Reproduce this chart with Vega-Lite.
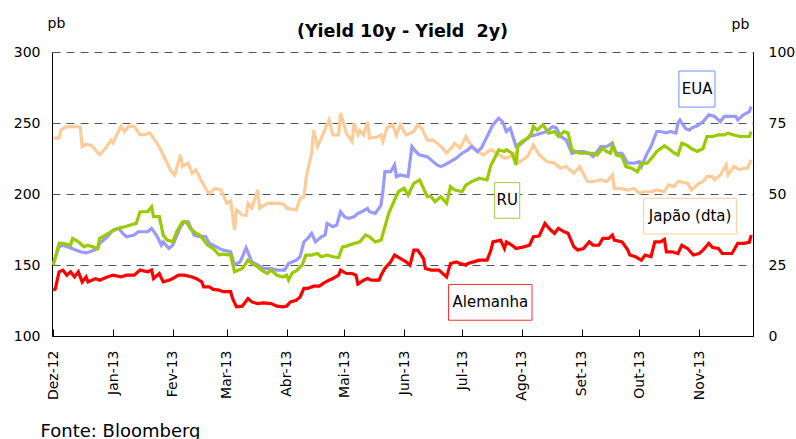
{
"$schema":"https://vega.github.io/schema/vega-lite/v6.json",
"width":701,"height":284,"autosize":"none",
"padding":{"left":52,"top":52,"right":43,"bottom":103},
"background":"white",
"config":{"font":"DejaVu Sans","view":{"stroke":null},"axis":{"labelColor":"black","titleColor":"black","domainColor":"black","tickColor":"black"}},
"title":{"text":"(Yield 10y - Yield\u00a0 2y)","fontSize":17.5,"fontWeight":"bold","anchor":"middle","offset":0,"color":"black","baseline":"alphabetic","dy":38},
"datasets":{
"EUA":[{"data":"2012-12-01","valor":151.1},{"data":"2012-12-04","valor":162.8},{"data":"2012-12-06","valor":163.9},{"data":"2012-12-10","valor":162},{"data":"2012-12-15","valor":159.3},{"data":"2012-12-18","valor":158.5},{"data":"2012-12-20","valor":159.3},{"data":"2012-12-24","valor":161.6},{"data":"2012-12-25","valor":165.2},{"data":"2012-12-29","valor":169.9},{"data":"2013-01-01","valor":174.6},{"data":"2013-01-04","valor":175.8},{"data":"2013-01-06","valor":172.3},{"data":"2013-01-08","valor":169.9},{"data":"2013-01-12","valor":171.1},{"data":"2013-01-14","valor":173.4},{"data":"2013-01-19","valor":173.4},{"data":"2013-01-21","valor":175.8},{"data":"2013-01-24","valor":169.9},{"data":"2013-01-26","valor":164},{"data":"2013-01-27","valor":166.3},{"data":"2013-01-30","valor":161.6},{"data":"2013-02-01","valor":164},{"data":"2013-02-05","valor":176.9},{"data":"2013-02-07","valor":180.4},{"data":"2013-02-09","valor":180.4},{"data":"2013-02-12","valor":171.1},{"data":"2013-02-15","valor":170},{"data":"2013-02-18","valor":170},{"data":"2013-02-20","valor":165.2},{"data":"2013-02-22","valor":164},{"data":"2013-02-25","valor":161.7},{"data":"2013-02-27","valor":160.5},{"data":"2013-03-03","valor":159.3},{"data":"2013-03-05","valor":149.9},{"data":"2013-03-08","valor":152.3},{"data":"2013-03-11","valor":162},{"data":"2013-03-14","valor":152.2},{"data":"2013-03-17","valor":150},{"data":"2013-03-20","valor":147.5},{"data":"2013-03-24","valor":147.5},{"data":"2013-03-27","valor":146.4},{"data":"2013-03-31","valor":146.4},{"data":"2013-04-02","valor":151.1},{"data":"2013-04-06","valor":153.4},{"data":"2013-04-08","valor":155.8},{"data":"2013-04-10","valor":166.3},{"data":"2013-04-12","valor":168.7},{"data":"2013-04-14","valor":172.3},{"data":"2013-04-16","valor":166.3},{"data":"2013-04-19","valor":169.9},{"data":"2013-04-21","valor":171.1},{"data":"2013-04-22","valor":179.3},{"data":"2013-04-25","valor":177},{"data":"2013-04-27","valor":178.1},{"data":"2013-04-29","valor":187.5},{"data":"2013-05-01","valor":184},{"data":"2013-05-03","valor":182.8},{"data":"2013-05-06","valor":184},{"data":"2013-05-08","valor":186.4},{"data":"2013-05-10","valor":187.5},{"data":"2013-05-13","valor":189.9},{"data":"2013-05-14","valor":187.5},{"data":"2013-05-17","valor":186.4},{"data":"2013-05-20","valor":192.2},{"data":"2013-05-21","valor":202.8},{"data":"2013-05-22","valor":215.7},{"data":"2013-05-25","valor":215.7},{"data":"2013-05-27","valor":220.5},{"data":"2013-05-28","valor":212.2},{"data":"2013-05-30","valor":213.4},{"data":"2013-06-03","valor":212.2},{"data":"2013-06-05","valor":233.4},{"data":"2013-06-07","valor":229.9},{"data":"2013-06-09","valor":227.5},{"data":"2013-06-13","valor":226.3},{"data":"2013-06-16","valor":222.8},{"data":"2013-06-18","valor":220.5},{"data":"2013-06-20","valor":219.3},{"data":"2013-06-22","valor":220.5},{"data":"2013-06-25","valor":222.8},{"data":"2013-06-28","valor":225.2},{"data":"2013-07-01","valor":228.7},{"data":"2013-07-04","valor":231.1},{"data":"2013-07-06","valor":233.4},{"data":"2013-07-09","valor":229.9},{"data":"2013-07-11","valor":232.2},{"data":"2013-07-14","valor":240.5},{"data":"2013-07-17","valor":248.7},{"data":"2013-07-20","valor":253.4},{"data":"2013-07-22","valor":251},{"data":"2013-07-24","valor":244},{"data":"2013-07-26","valor":246.4},{"data":"2013-07-29","valor":233.4},{"data":"2013-07-31","valor":234.6},{"data":"2013-08-03","valor":238.1},{"data":"2013-08-05","valor":240.5},{"data":"2013-08-08","valor":241.6},{"data":"2013-08-11","valor":242.8},{"data":"2013-08-14","valor":244},{"data":"2013-08-17","valor":247.5},{"data":"2013-08-19","valor":246.4},{"data":"2013-08-21","valor":240.5},{"data":"2013-08-24","valor":238.1},{"data":"2013-08-27","valor":228.7},{"data":"2013-08-30","valor":229.9},{"data":"2013-09-02","valor":229.9},{"data":"2013-09-05","valor":228.7},{"data":"2013-09-07","valor":226.3},{"data":"2013-09-11","valor":233.4},{"data":"2013-09-14","valor":233.4},{"data":"2013-09-17","valor":235.8},{"data":"2013-09-19","valor":228.7},{"data":"2013-09-22","valor":228.7},{"data":"2013-09-25","valor":221.7},{"data":"2013-09-28","valor":221.7},{"data":"2013-10-01","valor":222.8},{"data":"2013-10-02","valor":219.3},{"data":"2013-10-05","valor":228.7},{"data":"2013-10-07","valor":233.4},{"data":"2013-10-10","valor":244},{"data":"2013-10-12","valor":244},{"data":"2013-10-15","valor":243},{"data":"2013-10-17","valor":244},{"data":"2013-10-20","valor":243},{"data":"2013-10-21","valor":250},{"data":"2013-10-22","valor":252},{"data":"2013-10-25","valor":246},{"data":"2013-10-27","valor":245},{"data":"2013-10-28","valor":246.4},{"data":"2013-10-31","valor":248},{"data":"2013-11-03","valor":251},{"data":"2013-11-06","valor":255.7},{"data":"2013-11-09","valor":254.6},{"data":"2013-11-12","valor":251},{"data":"2013-11-14","valor":254.6},{"data":"2013-11-16","valor":254.6},{"data":"2013-11-20","valor":254.6},{"data":"2013-11-21","valor":252.2},{"data":"2013-11-24","valor":255.7},{"data":"2013-11-27","valor":258},{"data":"2013-11-28","valor":261.6}],
"RU":[{"data":"2012-12-01","valor":149.9},{"data":"2012-12-04","valor":165.2},{"data":"2012-12-06","valor":165.2},{"data":"2012-12-10","valor":163.9},{"data":"2012-12-11","valor":168.7},{"data":"2012-12-14","valor":166.3},{"data":"2012-12-17","valor":162.8},{"data":"2012-12-19","valor":164},{"data":"2012-12-24","valor":161.6},{"data":"2012-12-25","valor":168.7},{"data":"2012-12-28","valor":171.1},{"data":"2012-12-31","valor":173.4},{"data":"2013-01-03","valor":175.5},{"data":"2013-01-07","valor":176.9},{"data":"2013-01-11","valor":178.5},{"data":"2013-01-13","valor":179.3},{"data":"2013-01-15","valor":187.5},{"data":"2013-01-19","valor":187.5},{"data":"2013-01-21","valor":191},{"data":"2013-01-22","valor":184},{"data":"2013-01-25","valor":184},{"data":"2013-01-27","valor":171.1},{"data":"2013-01-29","valor":167.5},{"data":"2013-02-01","valor":166.3},{"data":"2013-02-03","valor":173.4},{"data":"2013-02-06","valor":180.4},{"data":"2013-02-08","valor":180.4},{"data":"2013-02-10","valor":175.8},{"data":"2013-02-13","valor":172.3},{"data":"2013-02-15","valor":171.1},{"data":"2013-02-19","valor":164},{"data":"2013-02-22","valor":161.6},{"data":"2013-02-25","valor":157},{"data":"2013-02-27","valor":157.7},{"data":"2013-03-03","valor":157},{"data":"2013-03-05","valor":145.2},{"data":"2013-03-09","valor":147.5},{"data":"2013-03-12","valor":153.4},{"data":"2013-03-14","valor":151.1},{"data":"2013-03-17","valor":148.7},{"data":"2013-03-19","valor":146.4},{"data":"2013-03-22","valor":144},{"data":"2013-03-24","valor":146.4},{"data":"2013-03-27","valor":142.8},{"data":"2013-03-30","valor":141.6},{"data":"2013-04-01","valor":142.8},{"data":"2013-04-02","valor":139.5},{"data":"2013-04-04","valor":144.6},{"data":"2013-04-06","valor":145.8},{"data":"2013-04-09","valor":149.9},{"data":"2013-04-11","valor":157},{"data":"2013-04-14","valor":157},{"data":"2013-04-17","valor":158.1},{"data":"2013-04-19","valor":155.8},{"data":"2013-04-22","valor":157},{"data":"2013-04-25","valor":155.8},{"data":"2013-04-28","valor":155.3},{"data":"2013-04-30","valor":162.8},{"data":"2013-05-02","valor":163.3},{"data":"2013-05-06","valor":165.2},{"data":"2013-05-09","valor":166.3},{"data":"2013-05-12","valor":171.1},{"data":"2013-05-14","valor":169.9},{"data":"2013-05-17","valor":166.3},{"data":"2013-05-20","valor":167.5},{"data":"2013-05-22","valor":176.9},{"data":"2013-05-24","valor":186.4},{"data":"2013-05-27","valor":195.8},{"data":"2013-05-29","valor":201.6},{"data":"2013-06-01","valor":204},{"data":"2013-06-03","valor":199.3},{"data":"2013-06-06","valor":207.5},{"data":"2013-06-09","valor":209.9},{"data":"2013-06-11","valor":204},{"data":"2013-06-13","valor":198.1},{"data":"2013-06-15","valor":198.1},{"data":"2013-06-17","valor":194.6},{"data":"2013-06-20","valor":198.1},{"data":"2013-06-23","valor":193.4},{"data":"2013-06-25","valor":205.2},{"data":"2013-06-27","valor":203},{"data":"2013-07-01","valor":201.6},{"data":"2013-07-03","valor":206.3},{"data":"2013-07-06","valor":208.7},{"data":"2013-07-10","valor":211.1},{"data":"2013-07-14","valor":209.9},{"data":"2013-07-16","valor":220.5},{"data":"2013-07-17","valor":222.8},{"data":"2013-07-20","valor":231.1},{"data":"2013-07-23","valor":229.9},{"data":"2013-07-24","valor":231.1},{"data":"2013-07-27","valor":228.7},{"data":"2013-07-29","valor":220.5},{"data":"2013-07-30","valor":234.6},{"data":"2013-08-01","valor":236.9},{"data":"2013-08-04","valor":239.3},{"data":"2013-08-06","valor":242.8},{"data":"2013-08-07","valor":247.5},{"data":"2013-08-09","valor":245},{"data":"2013-08-12","valor":248.7},{"data":"2013-08-15","valor":242.8},{"data":"2013-08-18","valor":244},{"data":"2013-08-20","valor":240.5},{"data":"2013-08-23","valor":244},{"data":"2013-08-25","valor":243},{"data":"2013-08-27","valor":231.1},{"data":"2013-08-29","valor":229.9},{"data":"2013-08-31","valor":228.7},{"data":"2013-09-04","valor":228.7},{"data":"2013-09-07","valor":228.7},{"data":"2013-09-09","valor":227.5},{"data":"2013-09-12","valor":232.2},{"data":"2013-09-14","valor":229.9},{"data":"2013-09-16","valor":228.7},{"data":"2013-09-17","valor":234.6},{"data":"2013-09-19","valor":227.5},{"data":"2013-09-22","valor":226.3},{"data":"2013-09-24","valor":219.3},{"data":"2013-09-27","valor":218.1},{"data":"2013-09-30","valor":215.7},{"data":"2013-10-02","valor":221.7},{"data":"2013-10-05","valor":221.7},{"data":"2013-10-08","valor":226.3},{"data":"2013-10-10","valor":230},{"data":"2013-10-14","valor":234},{"data":"2013-10-16","valor":232},{"data":"2013-10-19","valor":229},{"data":"2013-10-21","valor":227.5},{"data":"2013-10-23","valor":235.8},{"data":"2013-10-26","valor":234},{"data":"2013-10-28","valor":232},{"data":"2013-10-31","valor":229.9},{"data":"2013-11-03","valor":232},{"data":"2013-11-05","valor":240.5},{"data":"2013-11-08","valor":240.5},{"data":"2013-11-11","valor":241.6},{"data":"2013-11-14","valor":241.6},{"data":"2013-11-16","valor":242.8},{"data":"2013-11-19","valor":241.6},{"data":"2013-11-22","valor":240.5},{"data":"2013-11-24","valor":240.5},{"data":"2013-11-27","valor":240.5},{"data":"2013-11-28","valor":244}],
"Alemanha":[{"data":"2012-12-01","valor":132.3},{"data":"2012-12-02","valor":133},{"data":"2012-12-04","valor":145.2},{"data":"2012-12-06","valor":146.4},{"data":"2012-12-08","valor":142.8},{"data":"2012-12-10","valor":145.2},{"data":"2012-12-12","valor":141.6},{"data":"2012-12-14","valor":145.2},{"data":"2012-12-16","valor":138.1},{"data":"2012-12-18","valor":141.6},{"data":"2012-12-19","valor":138.1},{"data":"2012-12-23","valor":140.4},{"data":"2012-12-25","valor":139.3},{"data":"2012-12-29","valor":141.6},{"data":"2013-01-01","valor":142.8},{"data":"2013-01-05","valor":141.6},{"data":"2013-01-08","valor":142.8},{"data":"2013-01-12","valor":142.8},{"data":"2013-01-15","valor":146.4},{"data":"2013-01-19","valor":145.2},{"data":"2013-01-21","valor":146.4},{"data":"2013-01-22","valor":140.5},{"data":"2013-01-25","valor":144},{"data":"2013-01-27","valor":138.1},{"data":"2013-01-30","valor":139.3},{"data":"2013-02-01","valor":140.5},{"data":"2013-02-04","valor":142.8},{"data":"2013-02-07","valor":142.8},{"data":"2013-02-11","valor":141.6},{"data":"2013-02-13","valor":140.5},{"data":"2013-02-16","valor":138.1},{"data":"2013-02-17","valor":134.6},{"data":"2013-02-20","valor":134.6},{"data":"2013-02-22","valor":132.8},{"data":"2013-02-25","valor":132.3},{"data":"2013-02-27","valor":131.2},{"data":"2013-03-03","valor":131.2},{"data":"2013-03-04","valor":126.4},{"data":"2013-03-06","valor":120.5},{"data":"2013-03-09","valor":121},{"data":"2013-03-12","valor":126.4},{"data":"2013-03-14","valor":124},{"data":"2013-03-17","valor":122.8},{"data":"2013-03-20","valor":123.3},{"data":"2013-03-24","valor":122.8},{"data":"2013-03-27","valor":121},{"data":"2013-03-30","valor":120.5},{"data":"2013-04-01","valor":121},{"data":"2013-04-03","valor":124},{"data":"2013-04-06","valor":125.2},{"data":"2013-04-08","valor":127.5},{"data":"2013-04-10","valor":133.5},{"data":"2013-04-12","valor":133.5},{"data":"2013-04-15","valor":135.1},{"data":"2013-04-18","valor":135.1},{"data":"2013-04-20","valor":137},{"data":"2013-04-23","valor":139.3},{"data":"2013-04-25","valor":140.5},{"data":"2013-04-28","valor":142.8},{"data":"2013-04-29","valor":146.4},{"data":"2013-05-02","valor":144},{"data":"2013-05-05","valor":144},{"data":"2013-05-07","valor":142.8},{"data":"2013-05-08","valor":136.5},{"data":"2013-05-11","valor":139.3},{"data":"2013-05-13","valor":140.5},{"data":"2013-05-15","valor":139.3},{"data":"2013-05-19","valor":139.3},{"data":"2013-05-20","valor":142.8},{"data":"2013-05-22","valor":147.5},{"data":"2013-05-25","valor":152.2},{"data":"2013-05-27","valor":157},{"data":"2013-05-30","valor":154.6},{"data":"2013-06-02","valor":152.2},{"data":"2013-06-04","valor":149.9},{"data":"2013-06-06","valor":160.5},{"data":"2013-06-08","valor":160.5},{"data":"2013-06-11","valor":154.6},{"data":"2013-06-12","valor":147.5},{"data":"2013-06-15","valor":146.4},{"data":"2013-06-19","valor":146.4},{"data":"2013-06-21","valor":144},{"data":"2013-06-23","valor":141.6},{"data":"2013-06-25","valor":151.1},{"data":"2013-06-28","valor":152.2},{"data":"2013-06-30","valor":151.1},{"data":"2013-07-03","valor":149.9},{"data":"2013-07-04","valor":151.1},{"data":"2013-07-07","valor":152.2},{"data":"2013-07-10","valor":153.4},{"data":"2013-07-14","valor":153.4},{"data":"2013-07-16","valor":160.5},{"data":"2013-07-17","valor":166.3},{"data":"2013-07-21","valor":167.5},{"data":"2013-07-23","valor":161.6},{"data":"2013-07-24","valor":166.3},{"data":"2013-07-27","valor":163.9},{"data":"2013-07-29","valor":161.6},{"data":"2013-08-02","valor":162.8},{"data":"2013-08-05","valor":163.9},{"data":"2013-08-07","valor":169.9},{"data":"2013-08-10","valor":170.4},{"data":"2013-08-13","valor":179.3},{"data":"2013-08-16","valor":174.6},{"data":"2013-08-18","valor":172.3},{"data":"2013-08-20","valor":175.8},{"data":"2013-08-23","valor":173.4},{"data":"2013-08-25","valor":172.3},{"data":"2013-08-28","valor":162.8},{"data":"2013-08-30","valor":160.5},{"data":"2013-09-02","valor":161.6},{"data":"2013-09-05","valor":166.3},{"data":"2013-09-07","valor":163.9},{"data":"2013-09-10","valor":163.9},{"data":"2013-09-12","valor":168.7},{"data":"2013-09-15","valor":168.7},{"data":"2013-09-17","valor":171.1},{"data":"2013-09-18","valor":167.5},{"data":"2013-09-22","valor":166.3},{"data":"2013-09-25","valor":160.5},{"data":"2013-09-26","valor":157},{"data":"2013-09-29","valor":155.8},{"data":"2013-10-02","valor":153.4},{"data":"2013-10-04","valor":157},{"data":"2013-10-07","valor":155.8},{"data":"2013-10-09","valor":166.3},{"data":"2013-10-12","valor":166.3},{"data":"2013-10-14","valor":168},{"data":"2013-10-15","valor":159.3},{"data":"2013-10-18","valor":159.3},{"data":"2013-10-21","valor":158.1},{"data":"2013-10-23","valor":163.9},{"data":"2013-10-26","valor":161.6},{"data":"2013-10-29","valor":157},{"data":"2013-11-01","valor":158.1},{"data":"2013-11-03","valor":160.5},{"data":"2013-11-06","valor":165.2},{"data":"2013-11-08","valor":162.3},{"data":"2013-11-11","valor":161.6},{"data":"2013-11-13","valor":158.1},{"data":"2013-11-16","valor":158.1},{"data":"2013-11-18","valor":158.1},{"data":"2013-11-21","valor":165.2},{"data":"2013-11-24","valor":165.2},{"data":"2013-11-27","valor":166},{"data":"2013-11-28","valor":171.1}],
"Japao":[{"data":"2012-12-01","valor":69.7},{"data":"2012-12-04","valor":69.7},{"data":"2012-12-05","valor":72.5},{"data":"2012-12-07","valor":73.5},{"data":"2012-12-11","valor":73.8},{"data":"2012-12-15","valor":73.5},{"data":"2012-12-16","valor":66.7},{"data":"2012-12-18","valor":67.5},{"data":"2012-12-21","valor":67},{"data":"2012-12-25","valor":63.8},{"data":"2012-12-28","valor":66},{"data":"2012-12-31","valor":69},{"data":"2013-01-01","valor":68},{"data":"2013-01-05","valor":73.8},{"data":"2013-01-07","valor":72},{"data":"2013-01-09","valor":73.8},{"data":"2013-01-12","valor":73.8},{"data":"2013-01-15","valor":70.8},{"data":"2013-01-18","valor":71},{"data":"2013-01-20","valor":71.5},{"data":"2013-01-22","valor":69.7},{"data":"2013-01-25","valor":66.5},{"data":"2013-01-29","valor":60.9},{"data":"2013-01-31","valor":58},{"data":"2013-02-02","valor":56.7},{"data":"2013-02-05","valor":63.8},{"data":"2013-02-06","valor":59.7},{"data":"2013-02-09","valor":60.9},{"data":"2013-02-11","valor":57.3},{"data":"2013-02-13","valor":58.5},{"data":"2013-02-16","valor":54.4},{"data":"2013-02-19","valor":50.8},{"data":"2013-02-20","valor":50.3},{"data":"2013-02-23","valor":52},{"data":"2013-02-26","valor":51.4},{"data":"2013-03-01","valor":46.7},{"data":"2013-03-03","valor":47.5},{"data":"2013-03-05","valor":37.3},{"data":"2013-03-06","valor":44.4},{"data":"2013-03-09","valor":42.6},{"data":"2013-03-11","valor":42.5},{"data":"2013-03-12","valor":46.7},{"data":"2013-03-14","valor":45},{"data":"2013-03-17","valor":51.4},{"data":"2013-03-18","valor":45},{"data":"2013-03-22","valor":46.7},{"data":"2013-03-25","valor":46.7},{"data":"2013-03-29","valor":46.7},{"data":"2013-03-31","valor":46},{"data":"2013-04-01","valor":45},{"data":"2013-04-06","valor":44.4},{"data":"2013-04-08","valor":48.5},{"data":"2013-04-10","valor":49},{"data":"2013-04-11","valor":55},{"data":"2013-04-12","valor":58.5},{"data":"2013-04-14","valor":64.4},{"data":"2013-04-15","valor":72.6},{"data":"2013-04-17","valor":66.7},{"data":"2013-04-19","valor":69.7},{"data":"2013-04-23","valor":76.1},{"data":"2013-04-25","valor":70.8},{"data":"2013-04-28","valor":70.8},{"data":"2013-04-29","valor":78.5},{"data":"2013-05-02","valor":71.4},{"data":"2013-05-05","valor":68.5},{"data":"2013-05-06","valor":75},{"data":"2013-05-08","valor":70.8},{"data":"2013-05-09","valor":72.3},{"data":"2013-05-11","valor":70.8},{"data":"2013-05-13","valor":75.5},{"data":"2013-05-14","valor":69.7},{"data":"2013-05-18","valor":70},{"data":"2013-05-20","valor":70.8},{"data":"2013-05-21","valor":68.5},{"data":"2013-05-23","valor":73.2},{"data":"2013-05-26","valor":74.4},{"data":"2013-05-28","valor":70.8},{"data":"2013-05-30","valor":74.4},{"data":"2013-06-02","valor":70.8},{"data":"2013-06-06","valor":72},{"data":"2013-06-08","valor":74.4},{"data":"2013-06-10","valor":73.2},{"data":"2013-06-13","valor":69},{"data":"2013-06-16","valor":69},{"data":"2013-06-18","valor":67.9},{"data":"2013-06-21","valor":66.1},{"data":"2013-06-23","valor":64.4},{"data":"2013-06-26","valor":66.7},{"data":"2013-06-27","valor":67.9},{"data":"2013-06-30","valor":66.1},{"data":"2013-07-03","valor":70.3},{"data":"2013-07-05","valor":67.9},{"data":"2013-07-09","valor":65},{"data":"2013-07-12","valor":63.8},{"data":"2013-07-16","valor":65.6},{"data":"2013-07-19","valor":64.4},{"data":"2013-07-23","valor":62.6},{"data":"2013-07-26","valor":63.2},{"data":"2013-07-29","valor":64.4},{"data":"2013-07-30","valor":60.9},{"data":"2013-08-04","valor":63.2},{"data":"2013-08-07","valor":67.3},{"data":"2013-08-10","valor":63.8},{"data":"2013-08-14","valor":61.4},{"data":"2013-08-18","valor":60.9},{"data":"2013-08-21","valor":59.1},{"data":"2013-08-24","valor":59.7},{"data":"2013-08-28","valor":57.3},{"data":"2013-08-31","valor":59.7},{"data":"2013-09-04","valor":54.4},{"data":"2013-09-07","valor":54.4},{"data":"2013-09-11","valor":55},{"data":"2013-09-14","valor":54.4},{"data":"2013-09-17","valor":56.7},{"data":"2013-09-18","valor":52},{"data":"2013-09-21","valor":52},{"data":"2013-09-25","valor":51.4},{"data":"2013-09-28","valor":52},{"data":"2013-10-01","valor":50.3},{"data":"2013-10-03","valor":50.8},{"data":"2013-10-07","valor":50.8},{"data":"2013-10-10","valor":51.4},{"data":"2013-10-14","valor":50.8},{"data":"2013-10-16","valor":53.2},{"data":"2013-10-19","valor":52.6},{"data":"2013-10-21","valor":54.4},{"data":"2013-10-26","valor":53.8},{"data":"2013-10-28","valor":51.4},{"data":"2013-11-01","valor":53.8},{"data":"2013-11-03","valor":54.4},{"data":"2013-11-05","valor":56.1},{"data":"2013-11-08","valor":56.1},{"data":"2013-11-09","valor":55},{"data":"2013-11-12","valor":56.7},{"data":"2013-11-15","valor":60.3},{"data":"2013-11-16","valor":56.7},{"data":"2013-11-19","valor":59.7},{"data":"2013-11-22","valor":58.5},{"data":"2013-11-24","valor":59},{"data":"2013-11-26","valor":59},{"data":"2013-11-28","valor":62}],
"caixas":[
{"rotulo":"EUA","x1":"2013-10-21T12:00Z","x2":"2013-11-09T05:00Z","xc":"2013-10-30T22:00Z","y1":286.6,"y2":261.2,"yc":273.9,"cor":"#6F8FFF"},
{"rotulo":"RU","x1":"2013-07-17T22:00Z","x2":"2013-07-30T22:00Z","xc":"2013-07-24T10:00Z","y1":208,"y2":182.9,"yc":195.5,"cor":"#A0CC40"},
{"rotulo":"Japão (dta)","x1":"2013-10-03T05:00Z","x2":"2013-11-20T07:00Z","xc":"2013-10-27T07:00Z","y1":197,"y2":171.8,"yc":184.4,"cor":"#FFCC99"},
{"rotulo":"Alemanha","x1":"2013-06-24T00:00Z","x2":"2013-08-06T07:00Z","xc":"2013-07-15T17:00Z","y1":136.3,"y2":111.1,"yc":123.7,"cor":"#FF3030"}
]},
"layer":[
{"data":{"name":"Japao"},
 "mark":{"type":"line","strokeWidth":3.2,"color":"#FFCC99"},
 "encoding":{
  "x":{"field":"data","type":"temporal","scale":{"type":"utc","domain":["2012-11-30T08:00Z","2013-11-28T22:00Z"]},
    "axis":{"orient":"bottom","tickCount":{"interval":"month","step":1},"labelExpr":"['Jan','Fev','Mar','Abr','Mai','Jun','Jul','Ago','Set','Out','Nov','Dez'][utcmonth(datum.value)] + '-' + utcFormat(datum.value, '%y')","labelAngle":270,"labelAlign":"right","labelBaseline":"middle","labelFontSize":14,"labelPadding":21,"labelFlush":false,"labelOverlap":false,"ticks":true,"tickSize":-7,"grid":false,"title":"Fonte: Bloomberg","titleX":-12,"titleY":100,"titleAlign":"left","titleAnchor":"start","titleBaseline":"alphabetic","titleFontSize":18,"titleFontWeight":"normal"}},
  "y":{"field":"valor","type":"quantitative","scale":{"domain":[0,100],"nice":false},
   "axis":{"orient":"right","values":[0,25,50,75,100],"grid":false,"ticks":false,"labelFontSize":14,"labelPadding":15,"title":"pb","titleAngle":0,"titleX":-13,"titleY":-24,"titleAlign":"center","titleBaseline":"alphabetic","titleFontSize":14,"titleFontWeight":"normal"}}}},
{"layer":[
 {"data":{"name":"EUA"},
  "mark":{"type":"line","strokeWidth":3.2,"color":"#9999FF"},
  "encoding":{
   "x":{"field":"data","type":"temporal"},
   "y":{"field":"valor","type":"quantitative","scale":{"domain":[100,300],"nice":false},
    "axis":{"orient":"left","values":[100,150,200,250,300],"grid":true,"gridDash":[8,6],"gridColor":"#555555","gridWidth":1,"ticks":false,"labelFontSize":14,"labelPadding":12,"title":"pb","titleAngle":0,"titleX":4,"titleY":-25,"titleAlign":"center","titleBaseline":"alphabetic","titleFontSize":14,"titleFontWeight":"normal"}}}},
 {"data":{"name":"RU"},
  "mark":{"type":"line","strokeWidth":3.2,"color":"#99CC00"},
  "encoding":{"x":{"field":"data","type":"temporal"},"y":{"field":"valor","type":"quantitative"}}},
 {"data":{"name":"Alemanha"},
  "mark":{"type":"line","strokeWidth":3.2,"color":"#FF0000"},
  "encoding":{"x":{"field":"data","type":"temporal"},"y":{"field":"valor","type":"quantitative"}}},
 {"data":{"name":"caixas"},
  "mark":{"type":"rect","fill":"white","strokeWidth":1},
  "encoding":{"x":{"field":"x1","type":"temporal"},"x2":{"field":"x2"},"y":{"field":"y1","type":"quantitative"},"y2":{"field":"y2"},"stroke":{"field":"cor","type":"nominal","scale":null}}},
 {"data":{"name":"caixas"},
  "mark":{"type":"text","fontSize":15,"color":"black","align":"center","baseline":"middle"},
  "encoding":{"x":{"field":"xc","type":"temporal"},"y":{"field":"yc","type":"quantitative"},"text":{"field":"rotulo"}}}
]}
],
"resolve":{"scale":{"y":"independent"}}
}
